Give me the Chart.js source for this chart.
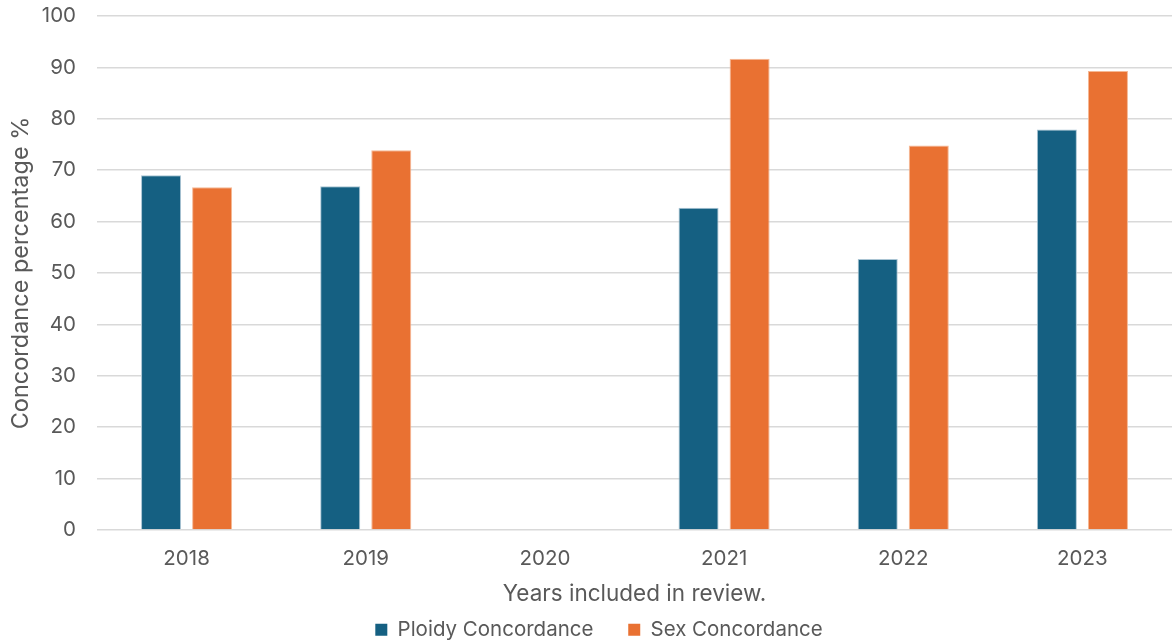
<!DOCTYPE html>
<html>
<head>
<meta charset="utf-8">
<script src="https://cdn.jsdelivr.net/npm/chart.js@4/dist/chart.umd.min.js"></script>
<style>
  html, body { margin: 0; padding: 0; background: #ffffff; }
  #wrap { width: 1174px; height: 643px; position: relative; }
</style>
</head>
<body>
<div id="wrap"><canvas id="c"></canvas></div>
<script>
const years = ['2018', '2019', '2020', '2021', '2022', '2023'];
const ploidyConcordance = [69.0, 66.9, null, 62.7, 52.7, 77.9];
const sexConcordance = [66.7, 73.9, null, 91.7, 74.8, 89.3];
const yTicks = [0, 10, 20, 30, 40, 50, 60, 70, 80, 90, 100];

const FONT = "Inter, 'Open Sans', sans-serif";
const GREY = '#595959';

new Chart(document.getElementById('c'), {
  type: 'bar',
  data: {
    labels: years,
    datasets: [
      {
        label: 'Ploidy Concordance',
        data: ploidyConcordance,
        backgroundColor: '#156082',
        borderColor: '#a9c4d3',
        borderWidth: 1,
        categoryPercentage: 0.57,
        barPercentage: 0.784
      },
      {
        label: 'Sex Concordance',
        data: sexConcordance,
        backgroundColor: '#E97132',
        borderColor: '#f5b894',
        borderWidth: 1,
        categoryPercentage: 0.57,
        barPercentage: 0.784
      }
    ]
  },
  options: {
    responsive: true,
    maintainAspectRatio: false,
    animation: false,
    layout: { padding: { top: 16, right: 2, left: 26, bottom: -7 } },
    plugins: {
      tooltip: { enabled: false },
      legend: {
        position: 'bottom',
        labels: {
          font: { family: FONT, size: 20.5 },
          color: GREY,
          boxWidth: 12,
          boxHeight: 12,
          padding: 6,
          generateLabels(chart) {
            // trailing spaces widen the gap between the two entries
            return chart.data.datasets.map((ds, i) => ({
              text: i === 0 ? ds.label + '     ' : ds.label,
              fillStyle: ds.backgroundColor,
              strokeStyle: ds.backgroundColor,
              lineWidth: 0,
              fontColor: GREY,
              datasetIndex: i
            }));
          }
        }
      }
    },
    scales: {
      x: {
        grid: { display: false },
        border: { display: false },
        afterFit(scale) { scale.height = 83.5; },
        ticks: { font: { family: FONT, size: 20.5 }, color: GREY, padding: 9 },
        title: {
          display: true,
          text: 'Years included in review.',
          font: { family: FONT, size: 22.5 },
          color: GREY,
          padding: { top: 0, bottom: 6 }
        }
      },
      y: {
        min: 0,
        max: 100,
        afterBuildTicks(scale) {
          scale.ticks = yTicks.map(v => ({ value: v }));
        },
        afterFit(scale) {
          scale.width = 71;
          scale.paddingTop = 0;
          scale.paddingBottom = 0;
        },
        grid: { color: '#d9d9d9', lineWidth: 1.5, drawTicks: false },
        border: { display: false },
        ticks: { font: { family: FONT, size: 20.5 }, color: GREY, padding: 21 },
        title: {
          display: true,
          text: 'Concordance percentage %',
          font: { family: FONT, size: 23.5 },
          color: GREY,
          padding: { top: -19, bottom: 0 }
        }
      }
    }
  }
});
</script>
</body>
</html>
